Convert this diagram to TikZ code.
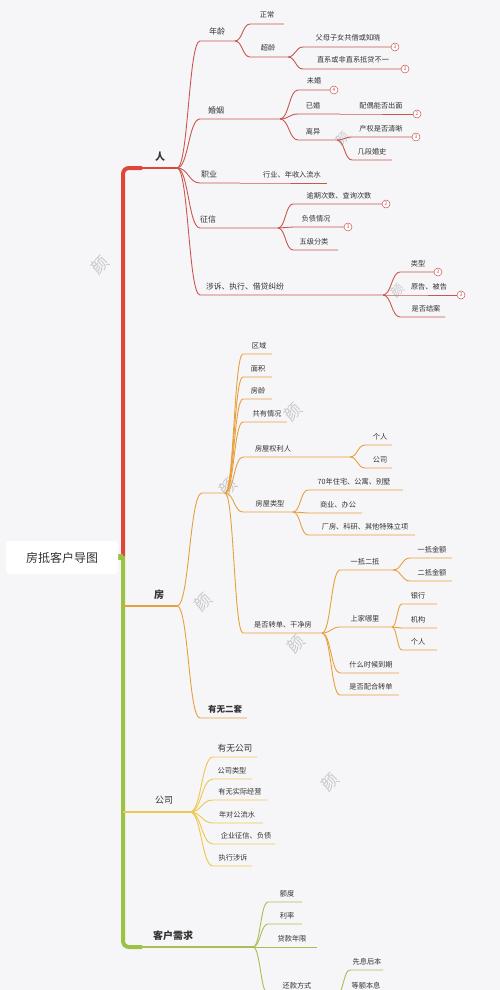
\documentclass[tikz,border=0pt]{standalone}
\usepackage{fontspec}
\setmainfont{Noto Sans CJK SC}
\usetikzlibrary{calc}
\definecolor{bgc}{HTML}{F6F6F8}
\definecolor{trunkred}{HTML}{E0453A}
\definecolor{trunkgreen}{HTML}{9CC243}
\definecolor{cred}{HTML}{C8574F}
\definecolor{corange}{HTML}{E8A03D}
\definecolor{cyellow}{HTML}{EFC64E}
\definecolor{colive}{HTML}{A8BF55}
\definecolor{txt}{HTML}{333333}
\definecolor{wmc}{HTML}{C9C9CC}
\tikzset{
  conn/.style={to path={let \p1=(\tikztostart), \p2=(\tikztotarget) in
     .. controls ({0.5*\x1+0.5*\x2},\y1) and ({0.5*\x1+0.5*\x2},\y2) .. (\tikztotarget)}},
  lbl/.style={text=txt, inner sep=0pt, anchor=base},
  numcirc/.style={circle, draw=cred, fill=white, minimum size=8pt, inner sep=0pt,
     line width=0.5pt, text=cred, font=\fontsize{5}{5}\selectfont},
  wm/.style={text=wmc, font=\fontsize{17}{17}\selectfont, rotate=45, inner sep=0pt},
  rootbox/.style={fill=white, rounded corners=3pt, minimum width=112pt, minimum height=33pt,
     text=txt, font=\fontsize{12}{12}\selectfont},
  mainlbl/.style={text=txt, inner sep=0pt}
}
\def\curcol{cred}
% parent, name, x1, x2, y, label-x, size, label
\newcommand{\topicln}[8]{%
  \coordinate (#2-s) at (#3,#5);
  \coordinate (#2) at (#4,#5);
  \draw[color=\curcol, line width=0.9pt] (#1) to[conn] (#2-s) -- (#2);
  \node[lbl, font=\fontsize{#7}{#7}\selectfont] (#2-t) at (#6,#5-6) {#8};
}
\newcommand{\numcirc}[3]{\node[numcirc] (#1) at ($(#2)+(4,0)$) {#3};}
\begin{document}
\begin{tikzpicture}[x=1pt,y=-1pt]
\useasboundingbox (0,0) rectangle (500,990);
\fill[bgc] (0,0) rectangle (500,990);
\clip (0,0) rectangle (500,990);

% watermarks
\node[wm] (w1) at (100,265) {颜};
\node[wm] (w2) at (293,412) {颜};
\node[wm] (w3) at (228,487) {颜};
\node[wm] (w4) at (203,602) {颜};
\node[wm] (w5) at (296,644) {颜};
\node[wm] (w6) at (330,782) {颜};
\node[wm, font=\fontsize{13}{13}\selectfont] (w7) at (343,138) {颜};
\node[wm, font=\fontsize{13}{13}\selectfont] (w8) at (398,290) {颜};

% trunk
\coordinate (trunkmid) at (123,556);
\coordinate (ren) at (177,168);
\coordinate (fang) at (177,606);
\coordinate (gs) at (190,812);
\coordinate (kh) at (253,947);
\coordinate (fangroot) at (123,606);
\coordinate (gsroot) at (123,812);
\draw[trunkred, line width=4pt, rounded corners=6pt] (trunkmid) -- (123,168) -- (142,168);
\draw[trunkred, line width=2pt] (140,168) -- (ren);
\draw[trunkgreen, line width=4pt, rounded corners=6pt] (trunkmid) -- (123,947) -- (142,947);
\draw[colive, line width=1.8pt] (140,947) -- (kh);
\draw[corange, line width=1.6pt] (fangroot) -- (fang);
\draw[cyellow, line width=1.6pt] (gsroot) -- (gs);
\fill[trunkgreen] (116,554) rectangle (123,560);
\node[rootbox] (root) at (62,557.5) {房抵客户导图};

% main labels
\node[mainlbl, font=\fontsize{10}{10}\selectfont\bfseries] (renlbl) at (160,157) {人};
\node[mainlbl, font=\fontsize{10}{10}\selectfont\bfseries] (fanglbl) at (159,595) {房};
\node[mainlbl, font=\fontsize{9}{9}\selectfont] (gslbl) at (164,800) {公司};
\node[mainlbl, font=\fontsize{10}{10}\selectfont\bfseries] (khlbl) at (173,936) {客户需求};

% ===== 人 =====
\def\curcol{cred}
\topicln{ren}{nl}{200}{235}{41}{217}{8}{年龄}
\topicln{nl}{zc}{250}{284}{24}{267}{7.2}{正常}
\topicln{nl}{cl}{250}{288}{57}{268}{7.2}{超龄}
\topicln{cl}{fm}{303}{391}{47}{348}{7.2}{父母子女共借或知晓}
\numcirc{fmn}{fm}{3}
\topicln{cl}{zx}{303}{401}{69}{353}{7.2}{直系或非直系抵贷不一}
\numcirc{zxn}{zx}{3}
\topicln{ren}{hy}{200}{280}{119}{216}{8}{婚姻}
\topicln{hy}{wh}{298}{330}{90}{314}{7.2}{未婚}
\numcirc{whn}{wh}{4}
\topicln{hy}{yh}{298}{340}{114}{313}{7.2}{已婚}
\topicln{yh}{po}{352}{413}{114}{381}{7.2}{配偶能否出面}
\numcirc{pon}{po}{2}
\topicln{hy}{ly}{298}{337}{140}{313}{7.2}{离异}
\topicln{ly}{cq}{352}{412}{137}{381}{7.2}{产权是否清晰}
\numcirc{cqn}{cq}{3}
\topicln{ly}{jd}{352}{392}{160}{372}{7.2}{几段婚史}
\topicln{ren}{zy}{200}{240}{183}{209}{8}{职业}
\topicln{zy}{hysr}{255}{327}{183}{292}{7.2}{行业、年收入流水}
\topicln{ren}{zxin}{200}{278}{228}{208}{8}{征信}
\topicln{zxin}{yq}{293}{382}{204}{339}{7.2}{逾期次数、查询次数}
\numcirc{yqn}{yq}{2}
\topicln{zxin}{fz}{293}{344}{227}{316}{7.2}{负债情况}
\numcirc{fzn}{fz}{3}
\topicln{zxin}{wj}{293}{338}{250}{314}{7.2}{五级分类}
\topicln{ren}{ss}{200}{383}{295}{245}{7.8}{涉诉、执行、借贷纠纷}
\topicln{ss}{lx}{400}{434}{272}{418}{7.2}{类型}
\numcirc{lxn}{lx}{3}
\topicln{ss}{yg}{400}{457}{295}{429}{7.2}{原告、被告}
\numcirc{ygn}{yg}{3}
\topicln{ss}{ja}{400}{445}{317}{426}{7.2}{是否结案}

% ===== 房 =====
\def\curcol{corange}
\coordinate (fx-s) at (202,493);
\coordinate (fx) at (225,493);
\draw[color=corange, line width=0.9pt] (fang) to[conn] (fx-s) -- (fx);
\topicln{fang}{ew}{200}{247}{718}{225}{8.5}{\bfseries 有无二套}
\topicln{fx}{qy}{243}{272}{354}{259}{7.2}{区域}
\topicln{fx}{mj}{243}{272}{377}{258}{7.2}{面积}
\topicln{fx}{fl}{243}{272}{399}{258}{7.2}{房龄}
\topicln{fx}{gy}{243}{287}{422}{267}{7.2}{共有情况}
\topicln{fx}{ql}{243}{350}{457}{273}{7.2}{房屋权利人}
\topicln{ql}{gr}{365}{392}{445}{380}{7.2}{个人}
\topicln{ql}{gsi}{365}{392}{468}{380}{7.2}{公司}
\topicln{fx}{fwlx}{243}{293}{512}{270}{7.2}{房屋类型}
\topicln{fwlx}{zz}{308}{403}{490}{354}{7.2}{70年住宅、公寓、别墅}
\topicln{fwlx}{sy}{308}{362}{513}{338}{7.2}{商业、办公}
\topicln{fwlx}{cf}{308}{415}{535}{365}{7.2}{厂房、科研、其他特殊立项}
\topicln{fx}{zd}{243}{322}{633}{283}{7.2}{是否转单、干净房}
\topicln{zd}{yd}{340}{393}{570}{365}{7.2}{一抵二抵}
\topicln{yd}{yj}{410}{452}{558}{432}{7.2}{一抵金额}
\topicln{yd}{ej}{410}{452}{581}{432}{7.2}{二抵金额}
\topicln{zd}{sj}{340}{392}{627}{365}{7.2}{上家哪里}
\topicln{sj}{yhang}{402}{437}{604}{418}{7.2}{银行}
\topicln{sj}{jg}{402}{437}{628}{418}{7.2}{机构}
\topicln{sj}{grr}{402}{437}{650}{418}{7.2}{个人}
\topicln{zd}{dq}{340}{399}{673}{371}{7.2}{什么时候到期}
\topicln{zd}{ph}{340}{399}{695}{371}{7.2}{是否配合转单}

% ===== 公司 =====
\def\curcol{cyellow}
\topicln{gs}{ywgs}{213}{257}{757}{235}{8.7}{有无公司}
\topicln{gs}{gslx}{213}{252}{779}{232}{7.2}{公司类型}
\topicln{gs}{jy}{213}{267}{800}{240}{7.2}{有无实际经营}
\topicln{gs}{ls}{213}{263}{823}{237}{7.2}{年对公流水}
\topicln{gs}{qyzx}{213}{275}{844}{246}{7.2}{企业征信、负债}
\topicln{gs}{zxss}{213}{252}{866}{233}{7.2}{执行涉诉}

% ===== 客户需求 =====
\def\curcol{colive}
\topicln{kh}{ed}{268}{302}{902}{287}{7.2}{额度}
\topicln{kh}{ll}{268}{302}{924}{287}{7.2}{利率}
\topicln{kh}{nx}{268}{317}{947}{292}{7.2}{贷款年限}
\topicln{kh}{hk}{268}{337}{994}{297}{7.2}{还款方式}
\topicln{hk}{xx}{350}{383}{970}{367}{7.2}{先息后本}
\topicln{hk}{de}{350}{383}{994}{366}{7.2}{等额本息}
\end{tikzpicture}
\end{document}
